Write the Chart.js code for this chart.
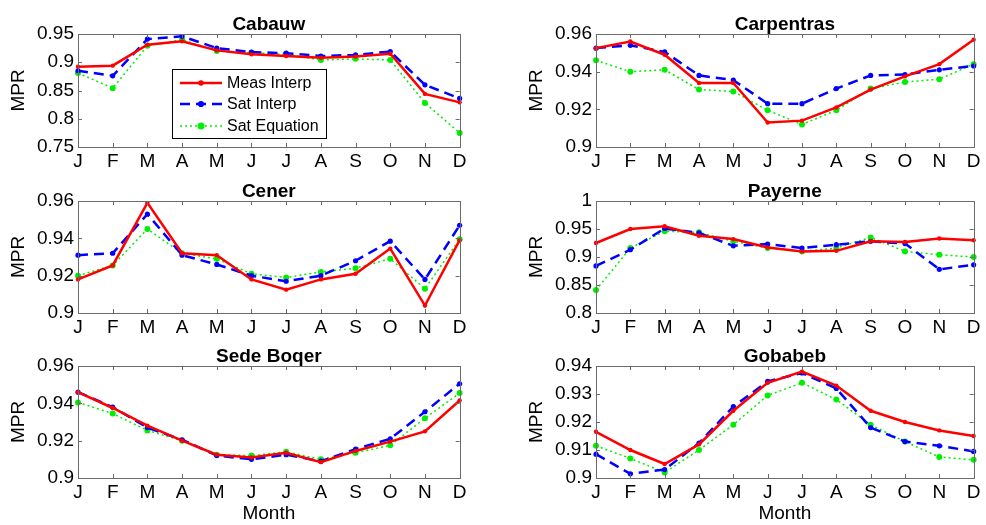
<!DOCTYPE html>
<html>
<head>
<meta charset="utf-8">
<script src="https://cdn.jsdelivr.net/npm/chart.js@4.4.1/dist/chart.umd.min.js"></script>
<style>
  html, body { margin: 0; padding: 0; background: #fff; overflow: hidden; }
  body { width: 986px; height: 525px; position: relative; }
  canvas { position: absolute; }
</style>
</head>
<body>
<canvas id="cabauw"></canvas>
<canvas id="carpentras"></canvas>
<canvas id="cener"></canvas>
<canvas id="payerne"></canvas>
<canvas id="sedeboqer"></canvas>
<canvas id="gobabeb"></canvas>
<script>
// Monthly MPR per station
const months = ['J', 'F', 'M', 'A', 'M', 'J', 'J', 'A', 'S', 'O', 'N', 'D'];
const seriesNames = ['Meas Interp', 'Sat Interp', 'Sat Equation'];

const cabauwMeas = [0.892, 0.894, 0.931, 0.937, 0.921, 0.914, 0.911, 0.908, 0.910, 0.915, 0.844, 0.829];
const cabauwSat  = [0.885, 0.876, 0.941, 0.946, 0.925, 0.918, 0.916, 0.911, 0.913, 0.919, 0.860, 0.836];
const cabauwEq   = [0.881, 0.854, 0.929, 0.940, 0.920, 0.917, 0.914, 0.904, 0.906, 0.904, 0.828, 0.775];
const cabauwTicks = [0.75, 0.8, 0.85, 0.9, 0.95];

const carpentrasMeas = [0.9525, 0.956, 0.949, 0.934, 0.934, 0.913, 0.914, 0.921, 0.9305, 0.9375, 0.944, 0.957];
const carpentrasSat  = [0.9525, 0.954, 0.9505, 0.938, 0.9355, 0.923, 0.923, 0.931, 0.938, 0.9385, 0.941, 0.943];
const carpentrasEq   = [0.946, 0.940, 0.941, 0.9305, 0.9295, 0.9195, 0.912, 0.9195, 0.931, 0.9345, 0.936, 0.944];
const carpentrasTicks = [0.9, 0.92, 0.94, 0.96];

const cenerMeas = [0.918, 0.9255, 0.959, 0.932, 0.931, 0.918, 0.9125, 0.918, 0.921, 0.9345, 0.904, 0.939];
const cenerSat  = [0.931, 0.932, 0.953, 0.931, 0.926, 0.920, 0.917, 0.920, 0.928, 0.9385, 0.918, 0.947];
const cenerEq   = [0.920, 0.9255, 0.945, 0.932, 0.929, 0.921, 0.919, 0.922, 0.924, 0.929, 0.913, 0.9395];
const cenerTicks = [0.9, 0.92, 0.94, 0.96];

const payerneMeas = [0.925, 0.950, 0.955, 0.938, 0.932, 0.917, 0.910, 0.911, 0.928, 0.927, 0.933, 0.930];
const payerneSat  = [0.884, 0.913, 0.951, 0.943, 0.920, 0.923, 0.916, 0.922, 0.928, 0.924, 0.878, 0.886];
const payerneEq   = [0.841, 0.916, 0.946, 0.944, 0.928, 0.916, 0.910, 0.916, 0.935, 0.910, 0.904, 0.900];
const payerneTicks = [0.8, 0.85, 0.9, 0.95, 1];

const sedeMeas = [0.946, 0.9375, 0.928, 0.920, 0.9125, 0.911, 0.9135, 0.9085, 0.9145, 0.9195, 0.925, 0.9415];
const sedeSat  = [0.946, 0.938, 0.927, 0.9205, 0.912, 0.910, 0.9125, 0.909, 0.9155, 0.921, 0.9355, 0.9505];
const sedeEq   = [0.9405, 0.9345, 0.9255, 0.920, 0.9125, 0.912, 0.914, 0.910, 0.9135, 0.9175, 0.932, 0.9455];
const sedeTicks = [0.9, 0.92, 0.94, 0.96];

const gobabebMeas = [0.9165, 0.910, 0.905, 0.912, 0.924, 0.934, 0.938, 0.933, 0.924, 0.920, 0.917, 0.915];
const gobabebSat  = [0.9085, 0.9015, 0.903, 0.9125, 0.9255, 0.9345, 0.9375, 0.932, 0.918, 0.913, 0.9115, 0.9095];
const gobabebEq   = [0.9115, 0.907, 0.902, 0.910, 0.919, 0.9295, 0.934, 0.928, 0.919, 0.913, 0.9075, 0.9065];
const gobabebTicks = [0.9, 0.91, 0.92, 0.93, 0.94];

Chart.defaults.font.family = '"Liberation Sans", Arial, sans-serif';
Chart.defaults.color = '#000';

const styles = [
    { color: '#ff0000', width: 2.5, dash: [], radius: 2.2 },
    { color: '#0000ff', width: 2.5, dash: [10, 6], radius: 2.6 },
    { color: '#00ee00', width: 1.5, dash: [2, 3], radius: 3 }
];

// box around the axes + inward tick marks, matlab style
const frameTicks = {
    id: 'frameTicks',
    afterDatasetsDraw(chart) {
        const { ctx, chartArea: a, scales: { x, y } } = chart;
        ctx.save();
        ctx.strokeStyle = '#6b6b6b';
        ctx.lineWidth = 1;
        ctx.setLineDash([]);
        ctx.beginPath();
        x.ticks.forEach((t, i) => {
            const px = Math.round(x.getPixelForTick(i)) + 0.5;
            ctx.moveTo(px, a.bottom); ctx.lineTo(px, a.bottom - 4);
            ctx.moveTo(px, a.top); ctx.lineTo(px, a.top + 4);
        });
        y.ticks.forEach(t => {
            const py = Math.round(y.getPixelForValue(t.value)) + 0.5;
            ctx.moveTo(a.left, py); ctx.lineTo(a.left + 4, py);
            ctx.moveTo(a.right, py); ctx.lineTo(a.right - 4, py);
        });
        ctx.stroke();
        ctx.strokeRect(Math.round(a.left) + 0.5, Math.round(a.top) + 0.5,
            Math.round(a.width), Math.round(a.height));
        ctx.restore();
    }
};

// legend box inside the Cabauw axes
const insideLegend = {
    id: 'insideLegend',
    afterDraw(chart) {
        const { ctx, chartArea: a } = chart;
        const bx = a.left + 94, by = a.top + 35, bw = 154, bh = 69;
        ctx.save();
        ctx.fillStyle = '#fff';
        ctx.fillRect(bx, by, bw, bh);
        ctx.strokeStyle = '#000';
        ctx.lineWidth = 1;
        ctx.strokeRect(bx + 0.5, by + 0.5, bw, bh);
        const rows = [14, 35, 57];
        chart.data.datasets.forEach((ds, i) => {
            const s = styles[i];
            const ly = by + rows[i];
            ctx.strokeStyle = s.color;
            ctx.lineWidth = s.width;
            ctx.setLineDash(s.dash);
            ctx.beginPath();
            ctx.moveTo(bx + 8, ly); ctx.lineTo(bx + 50, ly);
            ctx.stroke();
            ctx.setLineDash([]);
            ctx.fillStyle = s.color;
            ctx.beginPath();
            ctx.arc(bx + 29, ly, s.radius + 0.5, 0, Math.PI * 2);
            ctx.fill();
            ctx.fillStyle = '#000';
            ctx.font = '16px "Liberation Sans", Arial, sans-serif';
            ctx.textBaseline = 'middle';
            ctx.fillText(ds.label, bx + 55, ly + 1);
        });
        ctx.restore();
    }
};

function makePanel(id, title, meas, sat, eq, yTicks, box, withLegend, withMonth) {
    const el = document.getElementById(id);
    el.width = box.w;
    el.height = box.h;
    el.style.left = box.x + 'px';
    el.style.top = box.y + 'px';
    const series = [meas, sat, eq];
    const xAxisH = withMonth ? 48 : 30;

    new Chart(el.getContext('2d'), {
        type: 'line',
        data: {
            labels: months,
            datasets: series.map((vals, i) => ({
                label: seriesNames[i],
                data: vals,
                borderColor: styles[i].color,
                backgroundColor: styles[i].color,
                borderWidth: styles[i].width,
                borderDash: styles[i].dash,
                pointRadius: styles[i].radius,
                pointBorderWidth: 0,
                pointBackgroundColor: styles[i].color,
                tension: 0,
                fill: false
            }))
        },
        options: {
            responsive: false,
            animation: false,
            devicePixelRatio: 1,
            layout: { padding: { left: 0, top: 0, right: box.padR, bottom: 0 } },
            plugins: {
                legend: { display: false },
                tooltip: { enabled: false },
                title: {
                    display: true,
                    text: title,
                    fullSize: false,
                    color: '#000',
                    font: { size: 19, weight: 'bold', lineHeight: 1 },
                    padding: { top: 0, bottom: 0 }
                }
            },
            scales: {
                x: {
                    type: 'category',
                    offset: false,
                    grid: { display: false, drawTicks: false },
                    border: { display: false },
                    ticks: { font: { size: 19, lineHeight: 1 }, padding: 5.5, maxRotation: 0, autoSkip: false },
                    title: {
                        display: withMonth,
                        text: 'Month',
                        font: { size: 19, lineHeight: 1 },
                        padding: { top: 0, bottom: 2.5 }
                    },
                    afterFit(scale) { scale.height = xAxisH; }
                },
                y: {
                    min: yTicks[0],
                    max: yTicks[yTicks.length - 1],
                    grid: { display: false, drawTicks: false },
                    border: { display: false },
                    afterBuildTicks(scale) { scale.ticks = yTicks.map(v => ({ value: v })); },
                    ticks: {
                        font: { size: 19, lineHeight: 1 },
                        padding: 4,
                        callback: v => String(+Number(v).toFixed(4))
                    },
                    title: {
                        display: true,
                        text: 'MPR',
                        font: { size: 19, lineHeight: 1 },
                        padding: { top: 9.5, bottom: 0 }
                    },
                    afterFit(scale) { scale.width = 78; }
                }
            }
        },
        plugins: withLegend ? [frameTicks, insideLegend] : [frameTicks]
    });
}

const leftCol = { x: 0, w: 472, padR: 10 };
const rightCol = { x: 518, w: 468, padR: 7 };
const rowBox = [{ y: 15, h: 162 }, { y: 182, h: 161 }, { y: 347, h: 179 }];

function panelBox(col, row) { return Object.assign({}, col, rowBox[row]); }

makePanel('cabauw', 'Cabauw', cabauwMeas, cabauwSat, cabauwEq, cabauwTicks, panelBox(leftCol, 0), true, false);
makePanel('carpentras', 'Carpentras', carpentrasMeas, carpentrasSat, carpentrasEq, carpentrasTicks, panelBox(rightCol, 0), false, false);
makePanel('cener', 'Cener', cenerMeas, cenerSat, cenerEq, cenerTicks, panelBox(leftCol, 1), false, false);
makePanel('payerne', 'Payerne', payerneMeas, payerneSat, payerneEq, payerneTicks, panelBox(rightCol, 1), false, false);
makePanel('sedeboqer', 'Sede Boqer', sedeMeas, sedeSat, sedeEq, sedeTicks, panelBox(leftCol, 2), false, true);
makePanel('gobabeb', 'Gobabeb', gobabebMeas, gobabebSat, gobabebEq, gobabebTicks, panelBox(rightCol, 2), false, true);
</script>
</body>
</html>
